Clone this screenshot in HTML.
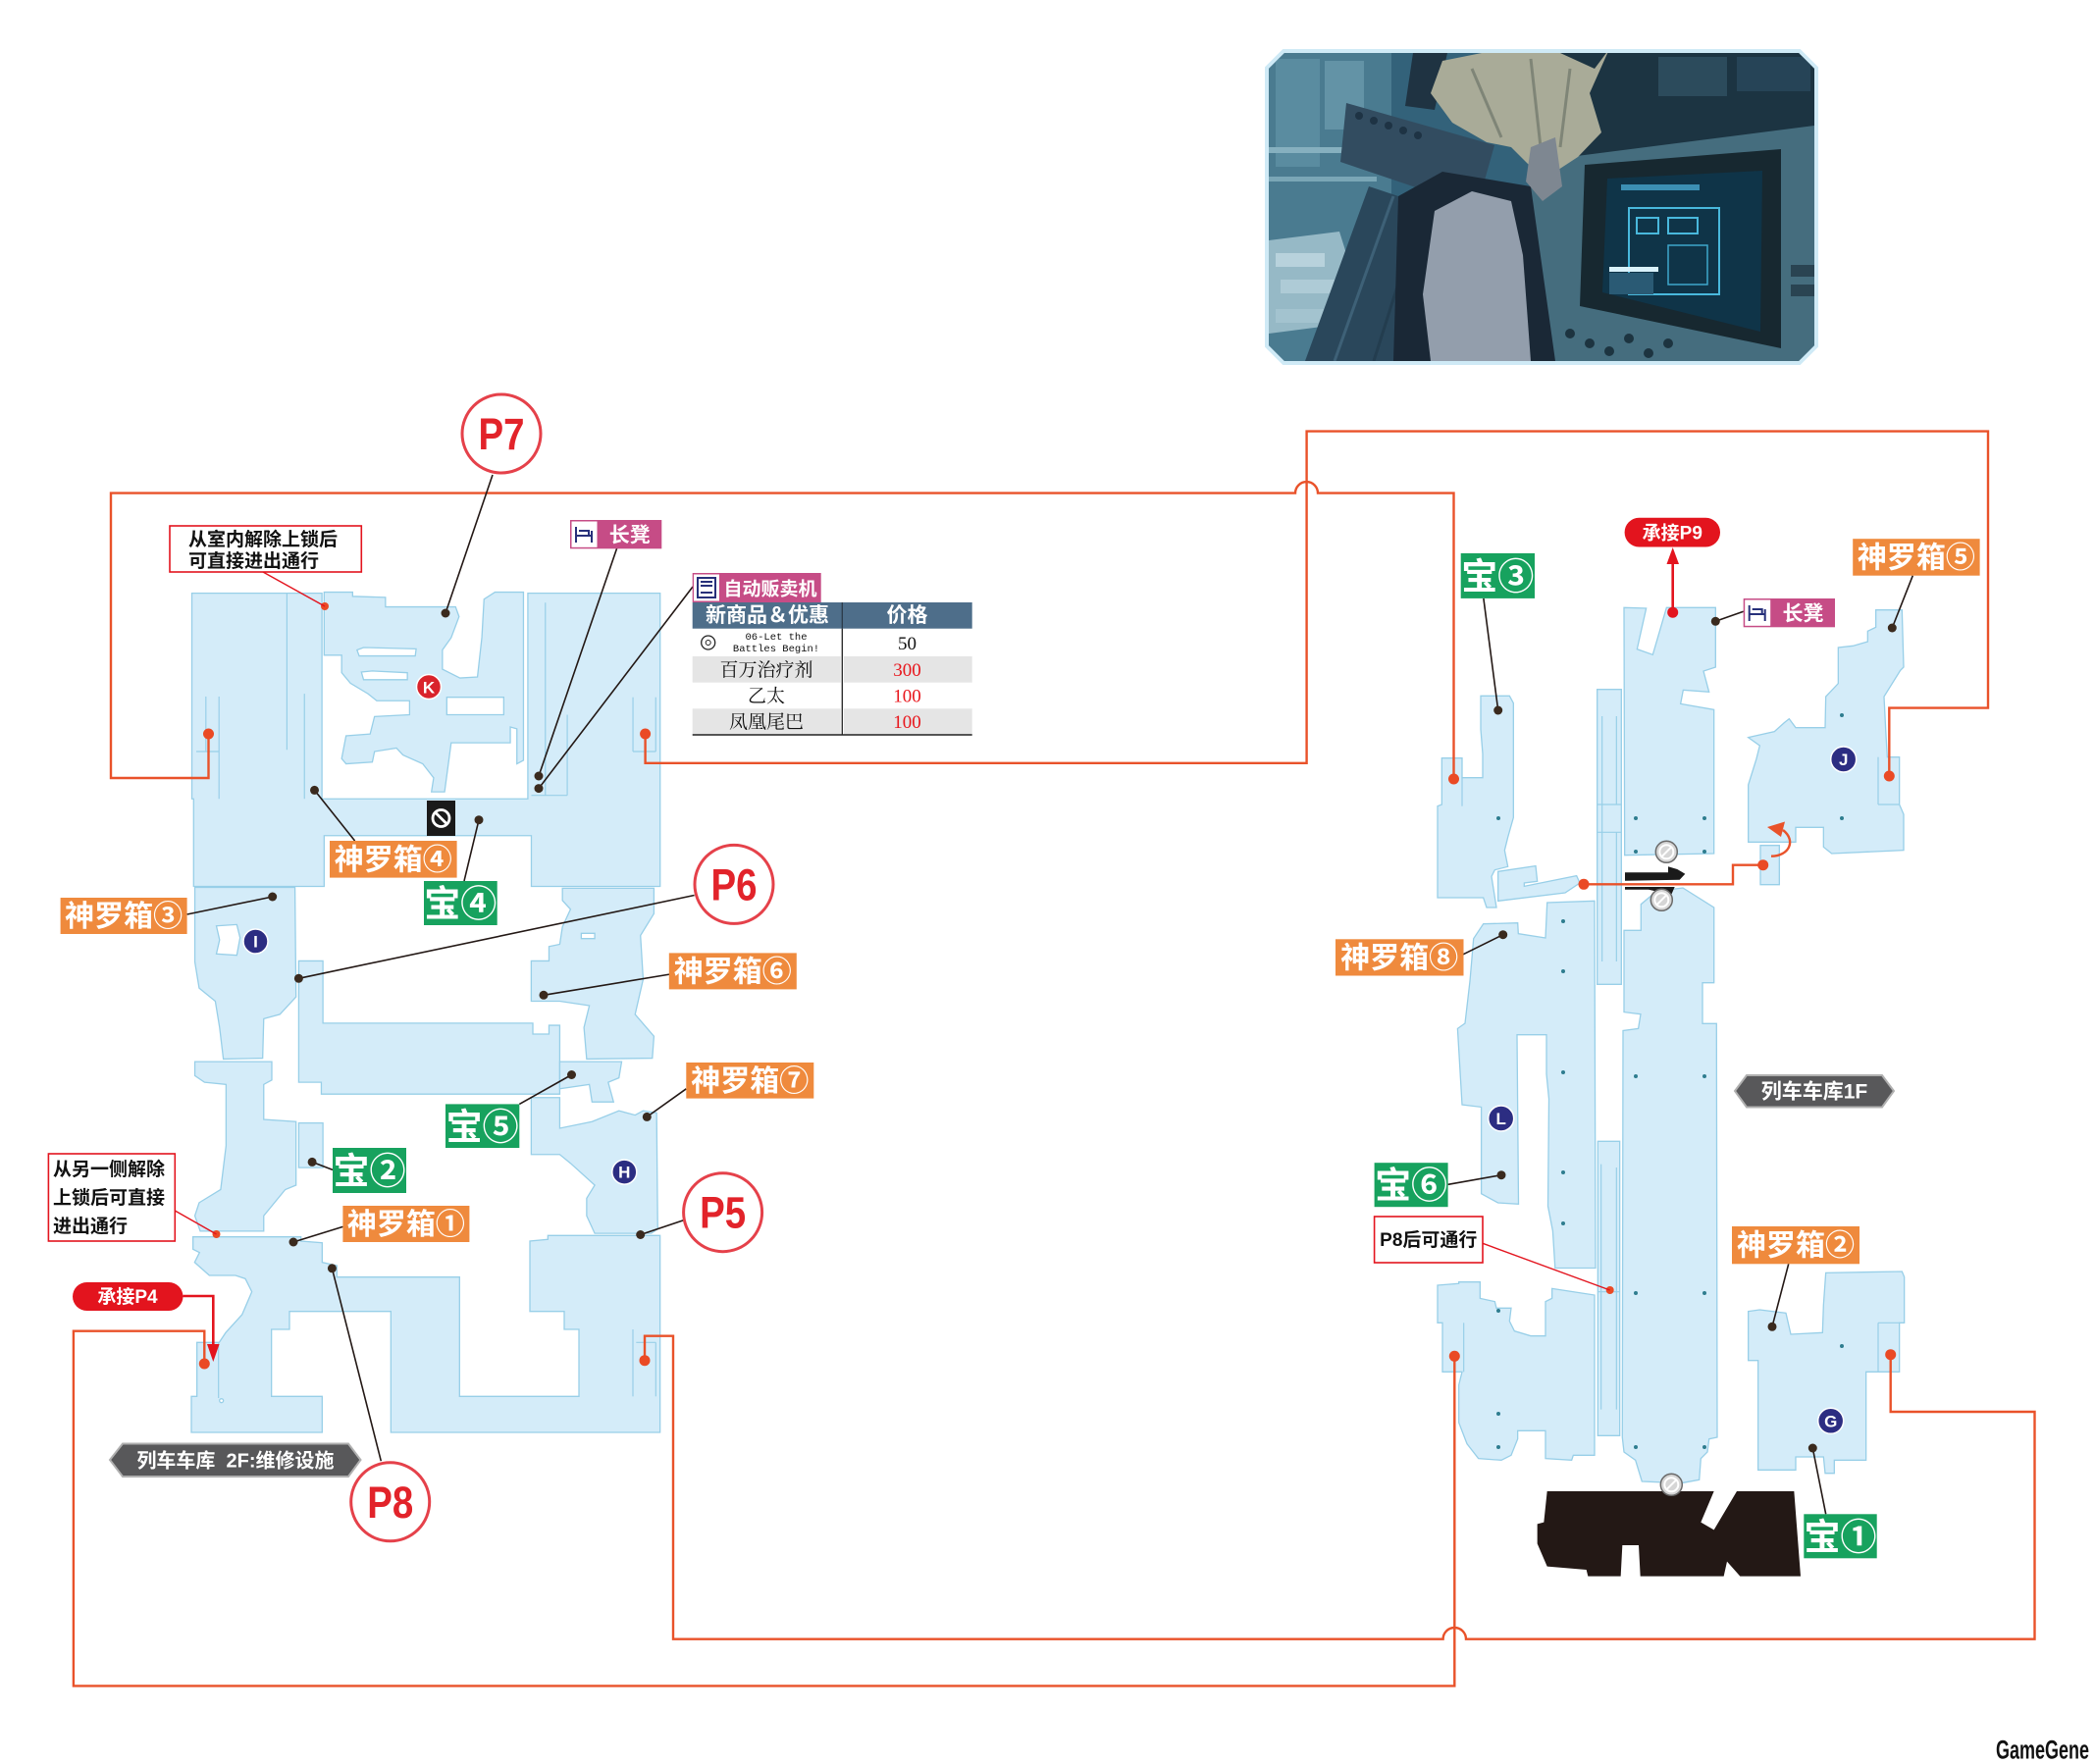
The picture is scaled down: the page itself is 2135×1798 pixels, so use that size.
<!DOCTYPE html>
<html><head><meta charset="utf-8">
<style>
html,body{margin:0;padding:0;background:#fff;}
svg{display:block}
.m{fill:#d4ecf9;stroke:#98cfe8;stroke-width:1.3;vector-effect:non-scaling-stroke}
.h{fill:#fff;stroke:#98cfe8;stroke-width:1.3;vector-effect:non-scaling-stroke}
.il{fill:none;stroke:#98cfe8;stroke-width:1.2;vector-effect:non-scaling-stroke}
.o{fill:none;stroke:#e9522a;stroke-width:2.4}
.k{stroke:#231815;stroke-width:1.6;fill:none}
.r{stroke:#e3141e;stroke-width:1.4;fill:none}
.t{font-family:"Liberation Sans","Noto Sans CJK SC",sans-serif;font-weight:bold}
.lab{fill:#fff;font-size:30px;text-anchor:middle}
.tre{fill:#fff;font-size:37px;text-anchor:middle}
.or{fill:#ef8a3d}
.gr{fill:#17a25e}
.dot{fill:#3a2a1e}
.rd{fill:#ea4a25}
.pc{fill:#fff;stroke:#e5414a;stroke-width:3}
.pt{fill:#e2232a;font-size:45px;text-anchor:middle;font-family:"Liberation Sans",sans-serif;font-weight:bold}
.nv{fill:#2c2d82;stroke:#fff;stroke-width:1.5}
.nt{fill:#fff;font-size:17px;text-anchor:middle}
.td{fill:#2e7d8f}
.bx{fill:#fff;stroke:#e3141e;stroke-width:1.6}
.bt{fill:#111;font-size:19px}
.tb{font-family:"Liberation Serif","Noto Serif CJK SC","Noto Sans CJK SC",serif;font-size:19px;text-anchor:middle}
</style></head><body>
<svg xmlns="http://www.w3.org/2000/svg" width="2135" height="1798" viewBox="0 0 2135 1798">
<rect width="2135" height="1798" fill="#fff"/>

<!-- ================= PHOTO ================= -->
<defs>
<clipPath id="pc"><polygon points="1309,54 1833,54 1849,70 1849,352 1833,368 1309,368 1293,352 1293,70"/></clipPath>
</defs>
<polygon points="1309,54 1833,54 1849,70 1849,352 1833,368 1309,368 1293,352 1293,70" fill="none" stroke="#cfeaf6" stroke-width="8"/>
<g clip-path="url(#pc)">
 <rect x="1293" y="54" width="556" height="314" fill="#33627a"/>
 <rect x="1293" y="54" width="125" height="314" fill="#4a7b90"/>
 <rect x="1300" y="60" width="45" height="110" fill="#5a8ca0"/>
 <rect x="1350" y="62" width="40" height="70" fill="#6393a6"/>
 <rect x="1293" y="150" width="100" height="6" fill="#86b0bf"/>
 <rect x="1293" y="180" width="110" height="5" fill="#7aa6b6"/>
 <polygon points="1293,245 1365,236 1385,300 1370,330 1293,340" fill="#96b9c6"/>
 <rect x="1300" y="258" width="50" height="14" fill="#b8d2dc"/>
 <rect x="1305" y="285" width="55" height="14" fill="#aecbd6"/>
 <rect x="1300" y="315" width="50" height="14" fill="#a3c3cf"/>
 <polygon points="1580,54 1849,54 1849,130 1580,165" fill="#1c3442"/>
 <rect x="1690" y="58" width="70" height="40" fill="#2c4b5c"/>
 <rect x="1770" y="58" width="75" height="35" fill="#264457"/>
 <polygon points="1560,165 1849,128 1849,368 1560,368" fill="#456d7e"/>
 <polygon points="1615,168 1815,152 1815,355 1610,312" fill="#172830"/>
 <polygon points="1638,182 1796,174 1794,338 1633,298" fill="#0f3448"/>
 <rect x="1660" y="212" width="92" height="88" fill="none" stroke="#49b8dc" stroke-width="2"/>
 <rect x="1668" y="222" width="22" height="16" fill="none" stroke="#49b8dc" stroke-width="2"/>
 <rect x="1700" y="222" width="30" height="16" fill="none" stroke="#49b8dc" stroke-width="2"/>
 <rect x="1700" y="250" width="40" height="40" fill="none" stroke="#3fa6cb" stroke-width="1.5"/>
 <rect x="1640" y="272" width="50" height="5" fill="#d9f2fb"/>
 <rect x="1640" y="278" width="45" height="22" fill="#2a5a74"/>
 <rect x="1652" y="188" width="80" height="6" fill="#3c8fb3"/>
 <rect x="1825" y="270" width="24" height="12" fill="#2a4452"/>
 <rect x="1825" y="290" width="24" height="12" fill="#2a4452"/>
 <circle cx="1600" cy="340" r="5" fill="#1d3440"/><circle cx="1620" cy="350" r="5" fill="#1d3440"/>
 <circle cx="1640" cy="358" r="5" fill="#1d3440"/><circle cx="1660" cy="345" r="5" fill="#1d3440"/>
 <circle cx="1680" cy="360" r="5" fill="#1d3440"/><circle cx="1700" cy="350" r="5" fill="#1d3440"/>
 <polygon points="1330,368 1395,190 1470,215 1440,368" fill="#2a475b"/>
 <line x1="1360" y1="368" x2="1420" y2="200" stroke="#3e6177" stroke-width="3"/>
 <line x1="1400" y1="368" x2="1450" y2="210" stroke="#233d4f" stroke-width="3"/>
 <polygon points="1440,54 1475,54 1462,112 1432,108" fill="#1f3342"/>
 <polygon points="1372,105 1523,148 1505,212 1366,165" fill="#324c60"/>
 <circle cx="1385" cy="118" r="4" fill="#1e3344"/><circle cx="1400" cy="123" r="4" fill="#1e3344"/>
 <circle cx="1415" cy="128" r="4" fill="#1e3344"/><circle cx="1430" cy="133" r="4" fill="#1e3344"/>
 <circle cx="1445" cy="138" r="4" fill="#1e3344"/>
 <polygon points="1425,200 1470,175 1560,190 1585,368 1420,368" fill="#1a2836"/>
 <polygon points="1462,215 1500,195 1540,205 1552,260 1560,368 1458,368 1450,300" fill="#939eac"/>
 <polygon points="1458,95 1470,62 1510,54 1590,54 1625,70 1640,50 1620,95 1632,135 1608,160 1585,175 1560,170 1540,150 1515,145 1480,125" fill="#a9ab98"/>
 <path d="M1500,70 L1530,140 M1560,60 L1570,150 M1600,70 L1590,150" stroke="#7f8577" stroke-width="3" fill="none"/>
 <polygon points="1560,150 1585,140 1592,190 1572,205 1555,185" fill="#7e8791"/>
</g>

<!-- ================= LEFT MAP ================= -->
<g transform="translate(0,400) scale(0.4464,0.3571)">
 <polygon class="m" points="438,573 735,573 735,1160 1205,1160 1205,573 1507,573 1507,1410 1213,1410 1213,1265 740,1265 740,1410 442,1410 442,1160 438,1160"/>
 <polygon class="m" points="740,570 805,570 805,582 880,585 880,612 1040,612 1048,640 1030,700 1010,735 1010,790 1050,815 1090,812 1100,700 1105,590 1130,570 1195,570 1195,1050 1180,1060 1180,960 1165,955 1165,1000 1030,1000 1015,1140 985,1140 990,1100 965,1060 920,1035 905,1015 855,1025 850,1055 790,1060 780,1045 790,980 845,975 855,925 935,920 935,880 860,880 840,860 800,830 780,800 780,750 740,750"/>
 <polygon class="h" points="815,735 830,728 950,732 948,752 820,752"/>
 <polygon class="h" points="825,798 850,795 930,800 930,820 830,820"/>
 <rect class="h" x="1020" y="870" width="130" height="50"/>
 <line class="il" x1="655" y1="573" x2="655" y2="1020"/>
 <line class="il" x1="695" y1="860" x2="695" y2="1160"/>
 <line class="il" x1="470" y1="868" x2="470" y2="1025"/>
 <line class="il" x1="500" y1="868" x2="500" y2="1160"/>
 <line class="il" x1="448" y1="1025" x2="500" y2="1025"/>
 <line class="il" x1="1245" y1="600" x2="1245" y2="1150"/>
 <line class="il" x1="1213" y1="1150" x2="1295" y2="1150"/>
 <line class="il" x1="1295" y1="920" x2="1295" y2="1150"/>
 <line class="il" x1="1445" y1="870" x2="1445" y2="1025"/>
 <line class="il" x1="1445" y1="1025" x2="1497" y2="1025"/>
 <line class="il" x1="1497" y1="870" x2="1497" y2="1025"/>
</g>
<g transform="translate(0,900) scale(0.5485,0.4464)">
 <polygon class="m" points="362,10 548,10 550,260 520,300 490,310 488,400 415,402 408,330 400,270 370,240 362,180"/>
 <polygon class="h" points="402,98 440,95 446,125 440,165 402,162 408,130"/>
 <polygon class="m" points="362,408 505,408 505,450 490,460 490,540 550,545 550,690 530,700 490,760 490,795 372,795 362,760 370,730 410,700 420,600 420,460 380,455 362,440"/>
 <rect class="m" x="555" y="548" width="45" height="102"/>
 <polygon class="m" points="555,178 600,178 600,320 990,320 990,345 1020,345 1020,325 1040,325 1040,482 597,482 597,455 555,455"/>
 <polygon class="m" points="1045,12 1215,12 1215,70 1190,120 1195,220 1180,300 1215,350 1212,400 1090,402 1085,330 1095,280 1040,270 987,270 987,178 1020,178 1020,145 1040,140 1045,100 1060,60 1045,40"/>
 <rect class="h" x="1080" y="115" width="25" height="12"/>
 <polygon class="m" points="1040,408 1155,408 1150,445 1130,455 1140,500 1100,500 1095,460 1040,470"/>
 <polygon class="m" points="987,490 1040,490 1040,560 1100,545 1150,520 1180,530 1195,520 1220,525 1222,790 1210,800 1105,800 1090,760 1090,720 1105,690 1060,640 1040,620 987,620"/>
</g>
<g transform="translate(180,1240) scale(0.33333)">
 <polygon class="m" points="50,62 380,62 380,75 445,80 445,140 490,150 490,185 865,185 865,550 1230,550 1230,345 1185,345 1185,290 1080,290 1080,75 1135,70 1135,58 1478,58 1478,660 655,660 655,290 345,290 345,345 290,345 290,550 445,550 445,660 45,660 45,550 62,550 62,385 130,385 150,355 200,300 230,230 210,190 180,180 100,180 55,140 70,110 50,100"/>
 <line class="il" x1="128" y1="385" x2="128" y2="555"/>
 <circle class="h" cx="137" cy="563" r="6"/>
 <line class="il" x1="1395" y1="345" x2="1395" y2="550"/>
 <line class="il" x1="1465" y1="385" x2="1465" y2="550"/>
 <line class="il" x1="1405" y1="385" x2="1465" y2="385"/>
</g>

<rect x="435" y="816" width="29" height="36" fill="#1a1a1a"/>
<circle cx="449.5" cy="834" r="8.5" fill="none" stroke="#fff" stroke-width="2.8"/>
<line x1="443.5" y1="828" x2="455.5" y2="840" stroke="#fff" stroke-width="2.8"/>

<circle cx="437" cy="700" r="12.5" fill="#d9232b" stroke="#fff" stroke-width="1.5"/>
<text x="437" y="706.5" class="t nt">K</text>
<circle cx="260.5" cy="959.5" r="12.5" class="nv"/>
<text x="260.5" y="965.5" class="t nt">I</text>
<circle cx="636.3" cy="1194.6" r="12.5" class="nv"/>
<text x="636.3" y="1200.6" class="t nt">H</text>

<!-- ================= RIGHT MAP ================= -->
<g transform="translate(1440,600) scale(0.33333)">
 <polygon class="m" points="207,328 295,328 307,350 307,700 290,760 280,800 290,850 250,860 240,880 255,975 225,975 215,945 75,945 75,665 88,660 88,518 150,518 150,578 213,578 213,505 207,430"/>
 <line class="il" x1="150" y1="578" x2="150" y2="665"/>
 <polygon class="m" points="260,865 375,848 380,895 340,900 340,910 500,878 510,900 465,930 260,955"/>
 <rect class="m" x="563" y="308" width="74" height="902"/>
 <line class="il" x1="578" y1="390" x2="578" y2="1140"/>
 <line class="il" x1="622" y1="390" x2="622" y2="660"/>
 <line class="il" x1="622" y1="745" x2="622" y2="1140"/>
 <line class="il" x1="563" y1="660" x2="637" y2="660"/>
 <line class="il" x1="563" y1="745" x2="637" y2="745"/>
 <polygon class="m" points="645,58 713,60 685,185 733,202 775,58 925,58 925,240 888,252 905,316 826,310 818,352 920,370 920,810 647,815"/>
 <polygon class="m" points="1025,455 1105,437 1135,410 1150,398 1170,425 1260,425 1262,330 1300,290 1300,180 1345,175 1390,162 1390,130 1415,118 1415,65 1495,65 1500,240 1490,250 1440,330 1445,430 1450,515 1487,515 1487,660 1500,690 1500,800 1280,810 1255,790 1255,730 1170,730 1170,775 1025,775 1025,600 1050,520 1060,480"/>
 <line class="il" x1="1422" y1="515" x2="1422" y2="660"/>
 <line class="il" x1="1422" y1="660" x2="1487" y2="660"/>
 <rect class="m" x="1062" y="785" width="58" height="120"/>
</g>
<polygon class="m" points="1511.7,941.7 1546.7,940.7 1547.3,951.7 1575,956 1576.7,920 1625,918.3 1626,1292.5 1584.8,1292.5 1582.4,1254.6 1577.5,1229.4 1578.5,1120 1576,1094.7 1576,1054.7 1546,1054.7 1547.5,1227.3 1526.6,1226 1509.6,1216.7 1509.6,1128.4 1490,1126 1485.4,1048.4 1493,1043 1498,1000 1501.7,956.7"/>
<polygon class="m" points="1655,948.3 1672.3,948.3 1672.3,921.7 1688.3,908.3 1715,905 1746.7,925 1746.7,1001.7 1735,1001.7 1735,1043.3 1749.3,1043.3 1750,1465 1741.7,1466.7 1740,1480 1733.3,1486.7 1731.7,1508.3 1713.3,1511.7 1673.3,1510 1666.7,1488.3 1655,1480 1653.3,1465 1654,1050.5 1669.6,1048.4 1672,1033.7 1655,1031.6"/>
<g transform="translate(1440,1100) scale(0.33333)">
 <rect class="m" x="565" y="190" width="67" height="900"/>
 <line class="il" x1="575" y1="260" x2="575" y2="1010"/>
 <line class="il" x1="622" y1="270" x2="622" y2="1010"/>
 <line class="il" x1="565" y1="650" x2="632" y2="650"/>
 <polygon class="m" points="75,630 140,625 140,620 205,620 205,670 250,680 255,700 300,700 295,740 310,770 360,785 405,785 405,680 425,670 425,640 555,660 555,1150 490,1150 485,1165 405,1160 405,1075 320,1075 320,1100 300,1150 270,1165 200,1160 165,1115 140,1050 140,935 150,895 90,895 90,745 75,745"/>
 <line class="il" x1="155" y1="745" x2="155" y2="895"/>
 <polygon class="m" points="1025,710 1060,705 1140,715 1155,780 1252,775 1255,690 1262,592 1495,588 1502,605 1502,745 1487,745 1487,895 1385,895 1385,1165 1288,1165 1288,1205 1260,1205 1255,1155 1170,1155 1170,1195 1055,1195 1055,860 1025,860"/>
 <line class="il" x1="1422" y1="745" x2="1422" y2="895"/>
 <line class="il" x1="1422" y1="745" x2="1487" y2="745"/>
 <polygon fill="#231815" points="410,1260 920,1260 880,1355 920,1378 990,1260 1165,1260 1185,1520 1000,1520 960,1475 950,1520 695,1520 690,1425 640,1425 635,1520 535,1520 530,1500 410,1490 380,1420 380,1360 400,1355"/>
</g>
<g class="td">
 <circle cx="1527" cy="834" r="2"/><circle cx="1667" cy="834" r="2"/><circle cx="1737" cy="834" r="2"/>
 <circle cx="1667" cy="868" r="2"/><circle cx="1737" cy="868" r="2"/><circle cx="1877" cy="729" r="2"/>
 <circle cx="1877" cy="834" r="2"/><circle cx="1593" cy="939" r="2"/><circle cx="1593" cy="990" r="2"/>
 <circle cx="1593" cy="1093" r="2"/><circle cx="1667" cy="1097" r="2"/><circle cx="1737" cy="1097" r="2"/>
 <circle cx="1593" cy="1195" r="2"/><circle cx="1667" cy="1318" r="2"/><circle cx="1737" cy="1318" r="2"/>
 <circle cx="1527" cy="1336" r="2"/><circle cx="1527" cy="1441" r="2"/><circle cx="1527" cy="1475" r="2"/>
 <circle cx="1877" cy="1372" r="2"/><circle cx="1667" cy="1475" r="2"/><circle cx="1737" cy="1475" r="2"/>
 <circle cx="1593" cy="1247" r="2"/>
</g>
<polygon fill="#1a1a1a" points="1656,889.3 1700,889.3 1700,883.3 1709.3,886 1717.3,890.7 1711.7,896.7 1656,897.7"/>
<polygon fill="#1a1a1a" points="1656,904 1706.7,904 1703.3,911.7 1680,906.7 1656,906.7"/>
<g fill="#d6d6d6" stroke="#6a6a6a" stroke-width="1.5">
 <circle cx="1698.3" cy="868.3" r="11"/>
 <circle cx="1693.3" cy="917.3" r="11"/>
 <circle cx="1703.3" cy="1513.3" r="11"/>
</g>
<g fill="none" stroke="#fff" stroke-width="2">
 <circle cx="1698.3" cy="868.3" r="7"/><line x1="1693.3" y1="873.3" x2="1703.3" y2="863.3"/>
 <circle cx="1693.3" cy="917.3" r="7"/><line x1="1688.3" y1="922.3" x2="1698.3" y2="912.3"/>
 <circle cx="1703.3" cy="1513.3" r="7"/><line x1="1698.3" y1="1518.3" x2="1708.3" y2="1508.3"/>
</g>
<circle cx="1878.7" cy="774" r="13" class="nv"/><text x="1878.7" y="780" class="t nt">J</text>
<circle cx="1529.7" cy="1140" r="13" class="nv"/><text x="1529.7" y="1146" class="t nt">L</text>
<circle cx="1865.7" cy="1448.3" r="13" class="nv"/><text x="1865.7" y="1454.3" class="t nt">G</text>

<!-- ================= ORANGE CONNECTORS ================= -->
<path class="o" d="M212.5,748 V793 H113 V502.6 H1320 A11.5,11.5 0 0 1 1343,502.6 H1481.5 V794"/>
<path class="o" d="M657.6,748 V777.8 H1331.6 V439.6 H2026 V721.6 H1925.3 V791"/>
<path class="o" d="M208.3,1390 V1356.7 H74.9 V1718.4 H1482.3 V1382.3"/>
<path class="o" d="M657,1386.7 V1361.7 H686 V1670.7 H1470.6 A11.7,11.7 0 0 1 1494,1670.7 H2073.5 V1439 H1926.7 V1380.7"/>
<path class="o" d="M1614,901.3 H1766 V881.7 H1796.7"/>
<path class="o" d="M1805,872.7 C1823,872.7 1831,857 1817,846"/>
<polygon fill="#e9522a" points="1801,843 1819,837.5 1815,853"/>

<g class="rd">
 <circle cx="331" cy="618" r="4"/><circle cx="212.5" cy="748" r="5.5"/><circle cx="657.6" cy="748" r="5.5"/>
 <circle cx="208.3" cy="1390" r="5.5"/><circle cx="657" cy="1386.7" r="5.5"/><circle cx="220.5" cy="1258" r="4"/>
 <circle cx="1481.5" cy="794" r="5.5"/><circle cx="1925.3" cy="791" r="5.5"/><circle cx="1614" cy="901.3" r="5.5"/>
 <circle cx="1796.7" cy="881.7" r="5.5"/><circle cx="1482.3" cy="1382.3" r="5.5"/><circle cx="1926.7" cy="1380.7" r="5.5"/>
 <circle cx="1640.7" cy="1315" r="4"/>
</g>

<!-- ================= LEADER LINES ================= -->
<g class="k">
 <line x1="454" y1="625" x2="502" y2="484"/>
 <line x1="549" y1="791" x2="628.6" y2="559"/>
 <line x1="549" y1="803.6" x2="706" y2="598"/>
 <line x1="320.5" y1="805.4" x2="361.6" y2="857"/>
 <line x1="488" y1="835.7" x2="473" y2="898"/>
 <line x1="277.7" y1="914" x2="190.6" y2="932"/>
 <line x1="304.4" y1="997.3" x2="707.6" y2="912.5"/>
 <line x1="554" y1="1014.3" x2="683" y2="993"/>
 <line x1="582.5" y1="1095.5" x2="529.3" y2="1125.4"/>
 <line x1="659.3" y1="1138.4" x2="699.3" y2="1109.8"/>
 <line x1="318.1" y1="1184.4" x2="339" y2="1192.4"/>
 <line x1="299" y1="1266" x2="349.4" y2="1250.4"/>
 <line x1="652.7" y1="1258.5" x2="696.6" y2="1243.7"/>
 <line x1="338.4" y1="1292.8" x2="388.3" y2="1489.2"/>
 <line x1="1748.3" y1="633.3" x2="1776.7" y2="623.3"/>
 <line x1="1928.3" y1="640" x2="1949.3" y2="586.7"/>
 <line x1="1526.7" y1="724" x2="1511.9" y2="610"/>
 <line x1="1531.7" y1="952.7" x2="1490" y2="973.3"/>
 <line x1="1530" y1="1197.7" x2="1475.7" y2="1207.3"/>
 <line x1="1806" y1="1352.3" x2="1822.7" y2="1288.3"/>
 <line x1="1847.3" y1="1476" x2="1860.7" y2="1543.3"/>
</g>
<g class="r">
 <line x1="268" y1="583" x2="331" y2="618"/>
 <line x1="178.3" y1="1234" x2="220.5" y2="1258"/>
 <line x1="1511" y1="1267.3" x2="1640.7" y2="1315"/>
</g>
<g class="dot">
 <circle cx="454" cy="625" r="4.5"/><circle cx="320.5" cy="805.4" r="4.5"/><circle cx="488" cy="835.7" r="4.5"/>
 <circle cx="549" cy="791" r="4.5"/><circle cx="549" cy="803.6" r="4.5"/><circle cx="277.7" cy="914" r="4.5"/>
 <circle cx="304.4" cy="997.3" r="4.5"/><circle cx="554" cy="1014.3" r="4.5"/><circle cx="582.5" cy="1095.5" r="4.5"/>
 <circle cx="659.3" cy="1138.4" r="4.5"/><circle cx="318.1" cy="1184.4" r="4.5"/><circle cx="299" cy="1266" r="4.5"/>
 <circle cx="652.7" cy="1258.5" r="4.5"/><circle cx="338.4" cy="1292.8" r="4.5"/>
 <circle cx="1748.3" cy="633.3" r="4.5"/><circle cx="1928.3" cy="640" r="4.5"/><circle cx="1526.7" cy="724" r="4.5"/>
 <circle cx="1531.7" cy="952.7" r="4.5"/><circle cx="1530" cy="1197.7" r="4.5"/><circle cx="1806" cy="1352.3" r="4.5"/>
 <circle cx="1847.3" cy="1476" r="4.5"/>
</g>

<!-- ================= RED ARROWS / PILLS ================= -->
<path d="M186.5,1321 H217.3 V1374" fill="none" stroke="#e3141e" stroke-width="2.6"/>
<polygon fill="#e3141e" points="211,1370 223.6,1370 217.3,1388"/>
<rect x="74" y="1307" width="112.5" height="29" rx="14.5" fill="#e3141e"/>
<text x="130" y="1328" class="t" fill="#fff" font-size="19" text-anchor="middle">承接P4</text>

<line x1="1704.7" y1="624.2" x2="1704.7" y2="572" stroke="#e3141e" stroke-width="2.6"/>
<polygon fill="#e3141e" points="1698.5,575 1711,575 1704.7,558"/>
<circle cx="1704.7" cy="624.2" r="5.5" fill="#e3141e"/>
<rect x="1655.6" y="527.8" width="97.4" height="29.7" rx="14.8" fill="#e3141e"/>
<text x="1704.3" y="549.3" class="t" fill="#fff" font-size="19" text-anchor="middle">承接P9</text>

<!-- ================= P CIRCLES ================= -->
<circle cx="511" cy="442" r="40" class="pc"/><text x="511" y="458" class="pt" textLength="47" lengthAdjust="spacingAndGlyphs">P7</text>
<circle cx="748" cy="901.4" r="40" class="pc"/><text x="748" y="917.4" class="pt" textLength="47" lengthAdjust="spacingAndGlyphs">P6</text>
<circle cx="736.6" cy="1235.7" r="40" class="pc"/><text x="736.6" y="1251.7" class="pt" textLength="47" lengthAdjust="spacingAndGlyphs">P5</text>
<circle cx="397.7" cy="1530.8" r="40" class="pc"/><text x="397.7" y="1546.8" class="pt" textLength="47" lengthAdjust="spacingAndGlyphs">P8</text>

<!-- ================= ORANGE LABELS ================= -->
<rect x="336" y="857" width="129.6" height="37.6" class="or"/><text x="400.8" y="886.3" class="t lab">神罗箱④</text>
<rect x="61.6" y="915" width="129" height="37" class="or"/><text x="126.1" y="944" class="t lab">神罗箱③</text>
<rect x="681.8" y="971.4" width="130" height="37" class="or"/><text x="746.8" y="1000.4" class="t lab">神罗箱⑥</text>
<rect x="699.3" y="1083" width="130" height="36.6" class="or"/><text x="764.3" y="1112" class="t lab">神罗箱⑦</text>
<rect x="349.4" y="1229" width="129" height="37" class="or"/><text x="413.9" y="1258" class="t lab">神罗箱①</text>
<rect x="1888.2" y="549.2" width="129.4" height="37.5" class="or"/><text x="1952.9" y="578.4" class="t lab">神罗箱⑤</text>
<rect x="1361" y="957.3" width="130.5" height="37.2" class="or"/><text x="1426.2" y="986.4" class="t lab">神罗箱⑧</text>
<rect x="1765" y="1250" width="130" height="38.3" class="or"/><text x="1830" y="1279.6" class="t lab">神罗箱②</text>

<!-- ================= GREEN LABELS ================= -->
<rect x="432" y="898" width="74.7" height="45" class="gr"/><text x="469.3" y="934" class="t tre">宝④</text>
<rect x="454" y="1125.4" width="75.3" height="44.6" class="gr"/><text x="491.6" y="1161.4" class="t tre">宝⑤</text>
<rect x="339" y="1170" width="75" height="46" class="gr"/><text x="376.5" y="1206.5" class="t tre">宝②</text>
<rect x="1488.7" y="563.9" width="75.3" height="46" class="gr"/><text x="1526.3" y="600.4" class="t tre">宝③</text>
<rect x="1400.6" y="1185.2" width="75" height="45" class="gr"/><text x="1438.1" y="1221.2" class="t tre">宝⑥</text>
<rect x="1838.3" y="1543.3" width="74.4" height="45" class="gr"/><text x="1875.5" y="1579.3" class="t tre">宝①</text>

<!-- ================= NOTE BOXES ================= -->
<rect x="173" y="536" width="195.3" height="47" class="bx"/>
<text x="192" y="556" class="t bt">从室内解除上锁后</text>
<text x="192" y="578" class="t bt">可直接进出通行</text>
<rect x="49.4" y="1176" width="128.9" height="89" class="bx"/>
<text x="54" y="1198" class="t bt">从另一侧解除</text>
<text x="54" y="1227" class="t bt">上锁后可直接</text>
<text x="54" y="1256" class="t bt">进出通行</text>
<rect x="1400.6" y="1240" width="110.4" height="47" class="bx"/>
<text x="1455.8" y="1270" class="t bt" text-anchor="middle" font-size="18">P8后可通行</text>

<!-- ================= BENCH / VENDING ================= -->
<rect x="581" y="530" width="93.3" height="29.3" fill="#c64c86"/>
<rect x="582.5" y="531.5" width="26" height="26.3" fill="#fff"/>
<path d="M587,537 V553 M587,546 H603 M603,541 V553 M590,541 H600 V546" fill="none" stroke="#27307a" stroke-width="2"/>
<text x="641.8" y="552.5" class="t" fill="#fff" font-size="21" text-anchor="middle">长凳</text>

<rect x="1776.7" y="610" width="93.3" height="29.3" fill="#c64c86"/>
<rect x="1778.2" y="611.5" width="26" height="26.3" fill="#fff"/>
<path d="M1782.7,617 V633 M1782.7,626 H1798.7 M1798.7,621 V633 M1785.7,621 H1795.7 V626" fill="none" stroke="#27307a" stroke-width="2"/>
<text x="1837.5" y="632.5" class="t" fill="#fff" font-size="21" text-anchor="middle">长凳</text>

<rect x="705.7" y="584" width="131" height="30" fill="#c64c86"/>
<rect x="707" y="585.5" width="26" height="27" fill="#fff"/>
<rect x="711" y="589" width="18" height="20" fill="none" stroke="#27307a" stroke-width="2"/>
<path d="M714,593 H726 M714,597 H726 M714,604 H726" stroke="#27307a" stroke-width="2"/>
<text x="785" y="606.5" class="t" fill="#fff" font-size="19" text-anchor="middle">自动贩卖机</text>

<!-- ================= TABLE ================= -->
<rect x="705.7" y="614" width="285" height="26.7" fill="#4e6e8a"/>
<line x1="858.3" y1="614" x2="858.3" y2="640.7" stroke="#2a3a48" stroke-width="1.3"/>
<text x="782" y="634" class="t" fill="#fff" font-size="21" text-anchor="middle">新商品＆优惠</text>
<text x="924.5" y="634" class="t" fill="#fff" font-size="21" text-anchor="middle">价格</text>
<rect x="705.7" y="669" width="151" height="26.7" fill="#e5e5e5"/>
<rect x="860" y="669" width="130.7" height="26.7" fill="#e5e5e5"/>
<rect x="705.7" y="722.3" width="151" height="26.7" fill="#e5e5e5"/>
<rect x="860" y="722.3" width="130.7" height="26.7" fill="#e5e5e5"/>
<line x1="858.3" y1="640.7" x2="858.3" y2="749" stroke="#222" stroke-width="1.3"/>
<line x1="705.7" y1="749" x2="990.7" y2="749" stroke="#222" stroke-width="1.5"/>
<circle cx="721.7" cy="655" r="7" fill="none" stroke="#222" stroke-width="1.3"/>
<circle cx="721.7" cy="655" r="2.5" fill="none" stroke="#222" stroke-width="1"/>
<text x="791" y="652" font-family="'Liberation Mono',monospace" font-size="10.5" text-anchor="middle" fill="#111">06-Let the</text>
<text x="791" y="664" font-family="'Liberation Mono',monospace" font-size="10.5" text-anchor="middle" fill="#111">Battles Begin!</text>
<text x="924.5" y="662" class="tb" fill="#111" font-size="20">50</text>
<text x="781" y="689" class="tb" fill="#111">百万治疗剂</text>
<text x="924.5" y="689" class="tb" fill="#e8141a" font-size="20">300</text>
<text x="781" y="715.5" class="tb" fill="#111">乙太</text>
<text x="924.5" y="715.5" class="tb" fill="#e8141a" font-size="20">100</text>
<text x="781" y="742" class="tb" fill="#111">凤凰尾巴</text>
<text x="924.5" y="742" class="tb" fill="#e8141a" font-size="20">100</text>

<!-- ================= BADGES ================= -->
<polygon points="112,1488 125,1471.5 355,1471.5 367.5,1488 355,1505 125,1505" fill="#58585a" stroke="#b0b0b0" stroke-width="2"/>
<text x="240" y="1495.5" class="t" fill="#fff" font-size="20" text-anchor="middle" xml:space="preserve">列车车库  2F:维修设施</text>
<polygon points="1768,1112 1780,1096 1918,1096 1930,1112 1918,1128.5 1780,1128.5" fill="#58585a" stroke="#b0b0b0" stroke-width="2"/>
<text x="1849" y="1119.5" class="t" fill="#fff" font-size="21" text-anchor="middle">列车车库1F</text>

<text x="2034" y="1792.5" font-family="'Liberation Sans',sans-serif" font-weight="bold" font-size="27" fill="#111" textLength="95" lengthAdjust="spacingAndGlyphs">GameGene</text>
</svg>
</body></html>
